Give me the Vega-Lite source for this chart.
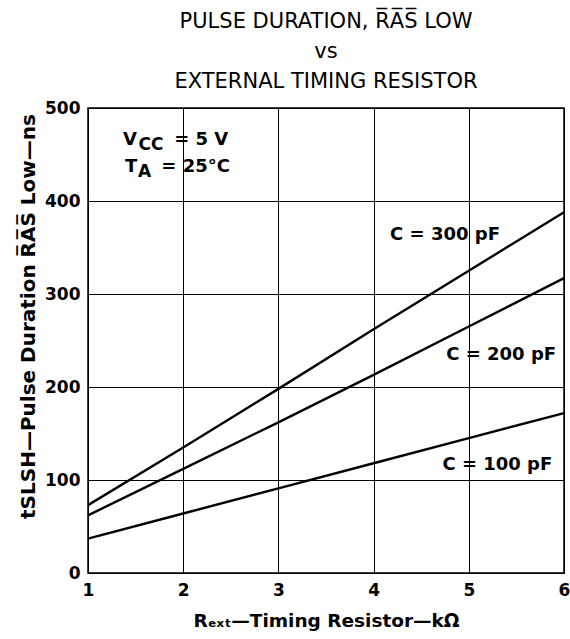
{
  "$schema": "https://vega.github.io/schema/vega-lite/v6.json",
  "width": 476,
  "height": 465,
  "autosize": {"type": "none"},
  "padding": {"left": 88, "top": 108, "right": 6, "bottom": 66},
  "background": "white",
  "title": {
    "text": ["PULSE DURATION, R̅A̅S̅ LOW", "vs", "EXTERNAL TIMING RESISTOR"],
    "font": "DejaVu Sans",
    "fontSize": 21,
    "fontWeight": "normal",
    "lineHeight": 30,
    "color": "black",
    "anchor": "middle",
    "frame": "group",
    "offset": 7
  },
  "config": {
    "view": {"stroke": "black", "strokeWidth": 1.5},
    "axis": {
      "grid": true,
      "gridColor": "black",
      "gridOpacity": 1,
      "gridWidth": 1,
      "domain": false,
      "ticks": false,
      "labelFont": "DejaVu Sans",
      "labelFontSize": 17,
      "labelFontWeight": "bold",
      "labelColor": "black",
      "labelFlush": false,
      "titleFont": "DejaVu Sans",
      "titleFontSize": 17,
      "titleFontWeight": "bold",
      "titleColor": "black"
    }
  },
  "datasets": {
    "curves": [
      {"r": 1, "t": 73, "c": "300"}, {"r": 2, "t": 135, "c": "300"}, {"r": 3, "t": 198, "c": "300"},
      {"r": 4, "t": 262, "c": "300"}, {"r": 5, "t": 325, "c": "300"}, {"r": 6, "t": 388, "c": "300"},
      {"r": 1, "t": 62, "c": "200"}, {"r": 2, "t": 112, "c": "200"}, {"r": 3, "t": 162, "c": "200"},
      {"r": 4, "t": 213, "c": "200"}, {"r": 5, "t": 265, "c": "200"}, {"r": 6, "t": 317, "c": "200"},
      {"r": 1, "t": 37, "c": "100"}, {"r": 2, "t": 64, "c": "100"}, {"r": 3, "t": 91, "c": "100"},
      {"r": 4, "t": 118, "c": "100"}, {"r": 5, "t": 145, "c": "100"}, {"r": 6, "t": 172, "c": "100"}
    ],
    "labels": [
      {"r": 4.75, "t": 363, "label": "C = 300 pF", "kind": "c"},
      {"r": 5.34, "t": 234, "label": "C = 200 pF", "kind": "c"},
      {"r": 5.30, "t": 116, "label": "C = 100 pF", "kind": "c"},
      {"r": 1.368, "t": 465.5, "label": "V", "kind": "main"},
      {"r": 1.53, "t": 460, "label": "CC", "kind": "sub"},
      {"r": 1.905, "t": 465.5, "label": "= 5 V", "kind": "main"},
      {"r": 1.389, "t": 436.5, "label": "T", "kind": "main"},
      {"r": 1.525, "t": 431, "label": "A", "kind": "sub"},
      {"r": 1.77, "t": 436.5, "label": "= 25°C", "kind": "main"}
    ]
  },
  "layer": [
    {
      "data": {"name": "curves"},
      "mark": {"type": "line", "color": "black", "strokeWidth": 2.4},
      "encoding": {
        "x": {
          "field": "r", "type": "quantitative",
          "scale": {"domain": [1, 6], "nice": false},
          "axis": {"values": [1, 2, 3, 4, 5, 6], "format": "d", "title": "Rₑₓₜ—Timing Resistor—kΩ", "labelPadding": 9, "titlePadding": 13, "titleFontSize": 18.5}
        },
        "y": {
          "field": "t", "type": "quantitative",
          "scale": {"domain": [0, 500], "nice": false},
          "axis": {"values": [0, 100, 200, 300, 400, 500], "format": "d", "title": "tSLSH—Pulse Duration R̅A̅S̅ Low—ns", "labelPadding": 8, "titleFontSize": 20, "titleX": -60, "titleY": 208, "titleAlign": "center", "titleBaseline": "middle", "titleAngle": -90}
        },
        "detail": {"field": "c"}
      }
    },
    {
      "data": {"name": "labels"},
      "transform": [{"filter": "datum.kind === 'c'"}],
      "mark": {"type": "text", "font": "DejaVu Sans", "fontSize": 18, "fontWeight": "bold", "color": "black", "baseline": "middle", "align": "center"},
      "encoding": {
        "x": {"field": "r", "type": "quantitative"},
        "y": {"field": "t", "type": "quantitative"},
        "text": {"field": "label"}
      }
    },
    {
      "data": {"name": "labels"},
      "transform": [{"filter": "datum.kind === 'main'"}],
      "mark": {"type": "text", "font": "DejaVu Sans", "fontSize": 18, "fontWeight": "bold", "color": "black", "baseline": "middle", "align": "left"},
      "encoding": {
        "x": {"field": "r", "type": "quantitative"},
        "y": {"field": "t", "type": "quantitative"},
        "text": {"field": "label"}
      }
    },
    {
      "data": {"name": "labels"},
      "transform": [{"filter": "datum.kind === 'sub'"}],
      "mark": {"type": "text", "font": "DejaVu Sans", "fontSize": 17, "fontWeight": "bold", "color": "black", "baseline": "middle", "align": "left"},
      "encoding": {
        "x": {"field": "r", "type": "quantitative"},
        "y": {"field": "t", "type": "quantitative"},
        "text": {"field": "label"}
      }
    }
  ]
}
